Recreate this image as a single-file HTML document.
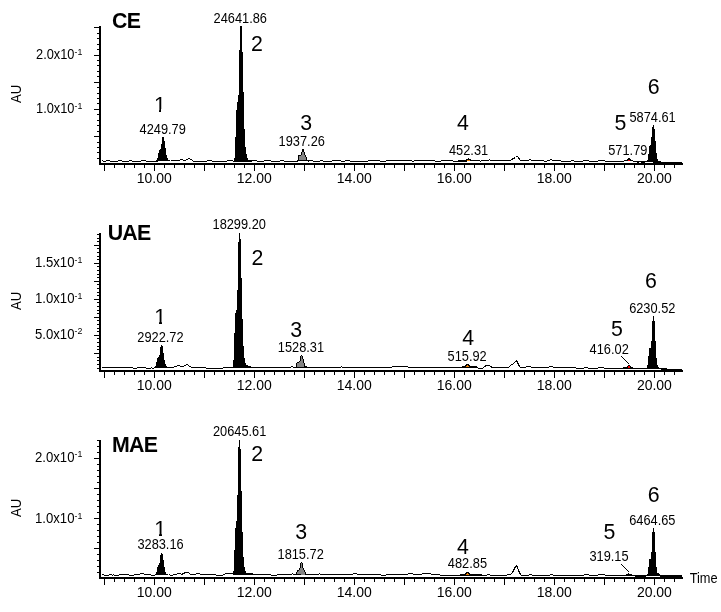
<!DOCTYPE html>
<html><head><meta charset="utf-8"><title>Chromatograms</title>
<style>
html,body{margin:0;padding:0;background:#fff;}
svg{display:block;}
text{font-family:"Liberation Sans",sans-serif;fill:#000;}
</style></head><body>
<svg width="721" height="612" viewBox="0 0 721 612" shape-rendering="crispEdges">
<rect x="0" y="0" width="721" height="612" fill="#fff"/>
<rect x="99" y="26" width="2" height="139" fill="#000"/>
<rect x="99" y="163" width="584" height="2" fill="#000"/>
<rect x="104" y="165" width="1" height="6" fill="#000"/>
<rect x="114" y="165" width="1" height="3" fill="#000"/>
<rect x="124" y="165" width="1" height="3" fill="#000"/>
<rect x="134" y="165" width="1" height="3" fill="#000"/>
<rect x="144" y="165" width="1" height="3" fill="#000"/>
<rect x="154" y="165" width="1" height="6" fill="#000"/>
<rect x="164" y="165" width="1" height="3" fill="#000"/>
<rect x="174" y="165" width="1" height="3" fill="#000"/>
<rect x="184" y="165" width="1" height="3" fill="#000"/>
<rect x="194" y="165" width="1" height="3" fill="#000"/>
<rect x="204" y="165" width="1" height="6" fill="#000"/>
<rect x="214" y="165" width="1" height="3" fill="#000"/>
<rect x="224" y="165" width="1" height="3" fill="#000"/>
<rect x="234" y="165" width="1" height="3" fill="#000"/>
<rect x="244" y="165" width="1" height="3" fill="#000"/>
<rect x="254" y="165" width="1" height="6" fill="#000"/>
<rect x="264" y="165" width="1" height="3" fill="#000"/>
<rect x="274" y="165" width="1" height="3" fill="#000"/>
<rect x="284" y="165" width="1" height="3" fill="#000"/>
<rect x="294" y="165" width="1" height="3" fill="#000"/>
<rect x="304" y="165" width="1" height="6" fill="#000"/>
<rect x="314" y="165" width="1" height="3" fill="#000"/>
<rect x="324" y="165" width="1" height="3" fill="#000"/>
<rect x="334" y="165" width="1" height="3" fill="#000"/>
<rect x="344" y="165" width="1" height="3" fill="#000"/>
<rect x="354" y="165" width="1" height="6" fill="#000"/>
<rect x="364" y="165" width="1" height="3" fill="#000"/>
<rect x="374" y="165" width="1" height="3" fill="#000"/>
<rect x="384" y="165" width="1" height="3" fill="#000"/>
<rect x="394" y="165" width="1" height="3" fill="#000"/>
<rect x="404" y="165" width="1" height="6" fill="#000"/>
<rect x="414" y="165" width="1" height="3" fill="#000"/>
<rect x="424" y="165" width="1" height="3" fill="#000"/>
<rect x="434" y="165" width="1" height="3" fill="#000"/>
<rect x="444" y="165" width="1" height="3" fill="#000"/>
<rect x="454" y="165" width="1" height="6" fill="#000"/>
<rect x="464" y="165" width="1" height="3" fill="#000"/>
<rect x="474" y="165" width="1" height="3" fill="#000"/>
<rect x="484" y="165" width="1" height="3" fill="#000"/>
<rect x="494" y="165" width="1" height="3" fill="#000"/>
<rect x="504" y="165" width="1" height="6" fill="#000"/>
<rect x="514" y="165" width="1" height="3" fill="#000"/>
<rect x="524" y="165" width="1" height="3" fill="#000"/>
<rect x="534" y="165" width="1" height="3" fill="#000"/>
<rect x="544" y="165" width="1" height="3" fill="#000"/>
<rect x="554" y="165" width="1" height="6" fill="#000"/>
<rect x="564" y="165" width="1" height="3" fill="#000"/>
<rect x="574" y="165" width="1" height="3" fill="#000"/>
<rect x="584" y="165" width="1" height="3" fill="#000"/>
<rect x="594" y="165" width="1" height="3" fill="#000"/>
<rect x="604" y="165" width="1" height="6" fill="#000"/>
<rect x="614" y="165" width="1" height="3" fill="#000"/>
<rect x="624" y="165" width="1" height="3" fill="#000"/>
<rect x="634" y="165" width="1" height="3" fill="#000"/>
<rect x="644" y="165" width="1" height="3" fill="#000"/>
<rect x="654" y="165" width="1" height="6" fill="#000"/>
<rect x="664" y="165" width="1" height="3" fill="#000"/>
<rect x="674" y="165" width="1" height="3" fill="#000"/>
<rect x="97" y="158" width="2" height="1" fill="#000"/>
<rect x="97" y="152" width="2" height="1" fill="#000"/>
<rect x="97" y="147" width="2" height="1" fill="#000"/>
<rect x="97" y="142" width="2" height="1" fill="#000"/>
<rect x="94" y="136" width="5" height="1" fill="#000"/>
<rect x="97" y="131" width="2" height="1" fill="#000"/>
<rect x="97" y="125" width="2" height="1" fill="#000"/>
<rect x="97" y="120" width="2" height="1" fill="#000"/>
<rect x="97" y="114" width="2" height="1" fill="#000"/>
<rect x="94" y="109" width="5" height="1" fill="#000"/>
<rect x="97" y="103" width="2" height="1" fill="#000"/>
<rect x="97" y="98" width="2" height="1" fill="#000"/>
<rect x="97" y="93" width="2" height="1" fill="#000"/>
<rect x="97" y="87" width="2" height="1" fill="#000"/>
<rect x="94" y="82" width="5" height="1" fill="#000"/>
<rect x="97" y="76" width="2" height="1" fill="#000"/>
<rect x="97" y="71" width="2" height="1" fill="#000"/>
<rect x="97" y="65" width="2" height="1" fill="#000"/>
<rect x="97" y="60" width="2" height="1" fill="#000"/>
<rect x="94" y="55" width="5" height="1" fill="#000"/>
<rect x="97" y="49" width="2" height="1" fill="#000"/>
<rect x="97" y="44" width="2" height="1" fill="#000"/>
<rect x="97" y="38" width="2" height="1" fill="#000"/>
<rect x="97" y="33" width="2" height="1" fill="#000"/>
<rect x="94" y="27" width="5" height="1" fill="#000"/>
<text x="136.75" y="182.80" font-size="14">10.00</text>
<text x="236.75" y="182.80" font-size="14">12.00</text>
<text x="336.75" y="182.80" font-size="14">14.00</text>
<text x="436.75" y="182.80" font-size="14">16.00</text>
<text x="536.75" y="182.80" font-size="14">18.00</text>
<text x="636.88" y="182.80" font-size="14">20.00</text>
<text transform="translate(36.03,59.40) scale(0.915,1)" font-size="14">2.0x10</text>
<text x="74.62" y="55.20" font-size="8.8" fill="#333">-1</text>
<text transform="translate(36.03,113.40) scale(0.915,1)" font-size="14">1.0x10</text>
<text x="74.62" y="109.20" font-size="8.8" fill="#333">-1</text>
<text transform="translate(21,93.9) rotate(-90) scale(0.93,1)" text-anchor="middle" font-size="14">AU</text>
<text x="112.03" y="27.80" font-size="21.33" font-weight="bold" letter-spacing="-0.7">CE</text>
<polyline points="101.5,160.5 102.5,160.5 103.5,161.5 105.5,161.5 106.5,160.5 109.5,160.5 110.5,161.5 117.5,161.5 118.5,160.5 121.5,160.5 122.5,161.5 128.5,161.5 129.5,160.5 131.5,160.5 132.5,161.5 140.5,161.5 141.5,160.5 145.5,160.5 146.5,161.5 156.5,161.5" fill="none" stroke="#000" stroke-width="1"/>
<polyline points="170.5,160.5 176.5,160.5 177.5,160.5 179.5,160.5 180.5,159.5 182.5,159.5 183.5,160.5 185.5,160.5 186.5,159.5 187.5,159.5 188.5,158.5 189.5,158.5 190.5,159.5 191.5,159.5 192.5,160.5 193.5,161.5 206.5,161.5 207.5,160.5 211.5,160.5 212.5,161.5 226.5,161.5 227.5,160.5 232.5,160.5 233.5,161.5 233.5,161.5" fill="none" stroke="#000" stroke-width="1"/>
<polyline points="251.5,161.5 251.5,161.5 252.5,160.5 256.5,160.5 257.5,161.5 263.5,161.5 264.5,160.5 270.5,160.5 271.5,161.5 279.5,161.5 280.5,160.5 283.5,160.5 284.5,161.5 297.5,161.5" fill="none" stroke="#000" stroke-width="1"/>
<polyline points="307.5,161.5 308.5,161.5 309.5,160.5 312.5,160.5 313.5,161.5 319.5,161.5 320.5,160.5 322.5,160.5 323.5,161.5 331.5,161.5 332.5,160.5 340.5,160.5 341.5,161.5 344.5,161.5 345.5,160.5 349.5,160.5 350.5,161.5 367.5,161.5 368.5,160.5 379.5,160.5 380.5,161.5 385.5,161.5 386.5,160.5 411.5,160.5 412.5,161.5 413.5,161.5 414.5,160.5 434.5,160.5 435.5,161.5 440.5,161.5 441.5,160.5 452.5,160.5 453.5,161.5 457.5,161.5 458.5,160.5 464.5,160.5 465.5,161.5 466.5,161.5" fill="none" stroke="#000" stroke-width="1"/>
<polyline points="470.5,160.5 471.5,160.5 479.5,160.5 480.5,161.5 480.5,161.5 481.5,160.5 488.5,160.5 489.5,159.5 489.5,159.5 490.5,160.5 509.5,160.5 510.5,160.5 511.5,159.5 513.5,158.5 515.5,157.5 516.5,156.5 517.5,156.5 518.5,157.5 519.5,159.5 520.5,160.5 521.5,160.5 528.5,160.5 529.5,159.5 530.5,159.5 531.5,160.5 543.5,160.5 544.5,161.5 546.5,161.5 547.5,160.5 549.5,160.5 550.5,159.5 551.5,159.5 552.5,160.5 560.5,160.5 561.5,161.5 570.5,161.5 571.5,160.5 573.5,160.5 574.5,161.5 582.5,161.5 583.5,160.5 588.5,160.5 589.5,161.5 597.5,161.5 598.5,160.5 604.5,160.5 605.5,161.5 623.5,161.5 624.5,160.5 626.5,160.5 627.5,159.5 628.5,158.5 629.5,158.5 630.5,159.5 631.5,160.5 632.5,160.5 633.5,161.5 648.5,161.5" fill="none" stroke="#000" stroke-width="1"/>
<rect x="637" y="162" width="2" height="1" fill="#000"/>
<rect x="641" y="162" width="4" height="1" fill="#000"/>
<rect x="162" y="137" width="2" height="4" fill="#000"/>
<rect x="162" y="141" width="3" height="3" fill="#000"/>
<rect x="161" y="144" width="4" height="4" fill="#000"/>
<rect x="161" y="148" width="5" height="1" fill="#000"/>
<rect x="160" y="149" width="6" height="1" fill="#000"/>
<rect x="159" y="150" width="7" height="3" fill="#000"/>
<rect x="158" y="153" width="8" height="2" fill="#000"/>
<rect x="158" y="155" width="9" height="3" fill="#000"/>
<rect x="157" y="158" width="11" height="2" fill="#000"/>
<rect x="156" y="160" width="14" height="1" fill="#000"/>
<rect x="156" y="161" width="2" height="1" fill="#000"/>
<polygon points="232,162 233,161 234,160 234,158 235,158 235,137 236,137 236,110 237,110 237,102 238,102 238,95 239,95 239,50 240,50 240,26 242,26 242,52 243,52 243,92 244,92 244,129 245,129 245,147 246,147 246,154 247,154 247,158 248,158 248,160 251,160 252,161 252,162" fill="#000"/>
<rect x="302" y="149" width="2" height="3" fill="#000"/>
<rect x="301" y="152" width="4" height="3" fill="#000"/>
<rect x="298" y="155" width="8" height="2" fill="#000"/>
<rect x="298" y="157" width="9" height="3" fill="#000"/>
<rect x="297" y="160" width="12" height="1" fill="#000"/>
<rect x="302" y="152" width="2" height="3" fill="#848484"/>
<rect x="301" y="155" width="4" height="1" fill="#848484"/>
<rect x="299" y="156" width="6" height="1" fill="#848484"/>
<rect x="299" y="157" width="7" height="3" fill="#848484"/>
<rect x="468" y="158" width="1" height="1" fill="#000"/>
<rect x="466" y="159" width="5" height="1" fill="#000"/>
<rect x="458" y="160" width="14" height="1" fill="#000"/>
<rect x="453" y="161" width="14" height="1" fill="#000"/>
<rect x="467" y="160" width="3" height="1" fill="#f08000"/>
<rect x="628" y="158" width="2" height="1" fill="#000"/>
<rect x="627" y="159" width="4" height="1" fill="#000"/>
<rect x="624" y="160" width="9" height="1" fill="#000"/>
<rect x="628" y="160" width="2" height="1" fill="#f00000"/>
<polygon points="646,162 647,160 648,160 648,154 649,154 649,146 650,146 651,144 652,130 653,125 654,125 654,129 655,129 655,141 656,141 656,153 657,153 657,159 658,159 658,161 661,161 661,162" fill="#000"/>
<rect x="653" y="162" width="29" height="1" fill="#000"/>
<text transform="translate(213.54,22.80) scale(0.915,1)" font-size="14">24641.86</text>
<text x="251.01" y="50.80" font-size="21.33">2</text>
<text x="154.05" y="111.60" font-size="21.33">1</text>
<rect x="153.75" y="109.30" width="5.35" height="3.2" fill="#fff"/>
<rect x="161.40" y="109.30" width="5.5" height="3.2" fill="#fff"/>
<text transform="translate(139.56,133.70) scale(0.915,1)" font-size="14">4249.79</text>
<text x="300.16" y="129.60" font-size="21.33">3</text>
<text transform="translate(278.62,145.80) scale(0.915,1)" font-size="14">1937.26</text>
<text x="456.88" y="130.00" font-size="21.33">4</text>
<text transform="translate(448.97,154.90) scale(0.915,1)" font-size="14">452.31</text>
<text x="614.46" y="129.60" font-size="21.33">5</text>
<text transform="translate(608.24,154.50) scale(0.915,1)" font-size="14">571.79</text>
<text x="647.69" y="93.80" font-size="21.33">6</text>
<text transform="translate(629.43,122.20) scale(0.915,1)" font-size="14">5874.61</text>
<rect x="99" y="233" width="2" height="139" fill="#000"/>
<rect x="99" y="370" width="584" height="2" fill="#000"/>
<rect x="104" y="372" width="1" height="6" fill="#000"/>
<rect x="114" y="372" width="1" height="3" fill="#000"/>
<rect x="124" y="372" width="1" height="3" fill="#000"/>
<rect x="134" y="372" width="1" height="3" fill="#000"/>
<rect x="144" y="372" width="1" height="3" fill="#000"/>
<rect x="154" y="372" width="1" height="6" fill="#000"/>
<rect x="164" y="372" width="1" height="3" fill="#000"/>
<rect x="174" y="372" width="1" height="3" fill="#000"/>
<rect x="184" y="372" width="1" height="3" fill="#000"/>
<rect x="194" y="372" width="1" height="3" fill="#000"/>
<rect x="204" y="372" width="1" height="6" fill="#000"/>
<rect x="214" y="372" width="1" height="3" fill="#000"/>
<rect x="224" y="372" width="1" height="3" fill="#000"/>
<rect x="234" y="372" width="1" height="3" fill="#000"/>
<rect x="244" y="372" width="1" height="3" fill="#000"/>
<rect x="254" y="372" width="1" height="6" fill="#000"/>
<rect x="264" y="372" width="1" height="3" fill="#000"/>
<rect x="274" y="372" width="1" height="3" fill="#000"/>
<rect x="284" y="372" width="1" height="3" fill="#000"/>
<rect x="294" y="372" width="1" height="3" fill="#000"/>
<rect x="304" y="372" width="1" height="6" fill="#000"/>
<rect x="314" y="372" width="1" height="3" fill="#000"/>
<rect x="324" y="372" width="1" height="3" fill="#000"/>
<rect x="334" y="372" width="1" height="3" fill="#000"/>
<rect x="344" y="372" width="1" height="3" fill="#000"/>
<rect x="354" y="372" width="1" height="6" fill="#000"/>
<rect x="364" y="372" width="1" height="3" fill="#000"/>
<rect x="374" y="372" width="1" height="3" fill="#000"/>
<rect x="384" y="372" width="1" height="3" fill="#000"/>
<rect x="394" y="372" width="1" height="3" fill="#000"/>
<rect x="404" y="372" width="1" height="6" fill="#000"/>
<rect x="414" y="372" width="1" height="3" fill="#000"/>
<rect x="424" y="372" width="1" height="3" fill="#000"/>
<rect x="434" y="372" width="1" height="3" fill="#000"/>
<rect x="444" y="372" width="1" height="3" fill="#000"/>
<rect x="454" y="372" width="1" height="6" fill="#000"/>
<rect x="464" y="372" width="1" height="3" fill="#000"/>
<rect x="474" y="372" width="1" height="3" fill="#000"/>
<rect x="484" y="372" width="1" height="3" fill="#000"/>
<rect x="494" y="372" width="1" height="3" fill="#000"/>
<rect x="504" y="372" width="1" height="6" fill="#000"/>
<rect x="514" y="372" width="1" height="3" fill="#000"/>
<rect x="524" y="372" width="1" height="3" fill="#000"/>
<rect x="534" y="372" width="1" height="3" fill="#000"/>
<rect x="544" y="372" width="1" height="3" fill="#000"/>
<rect x="554" y="372" width="1" height="6" fill="#000"/>
<rect x="564" y="372" width="1" height="3" fill="#000"/>
<rect x="574" y="372" width="1" height="3" fill="#000"/>
<rect x="584" y="372" width="1" height="3" fill="#000"/>
<rect x="594" y="372" width="1" height="3" fill="#000"/>
<rect x="604" y="372" width="1" height="6" fill="#000"/>
<rect x="614" y="372" width="1" height="3" fill="#000"/>
<rect x="624" y="372" width="1" height="3" fill="#000"/>
<rect x="634" y="372" width="1" height="3" fill="#000"/>
<rect x="644" y="372" width="1" height="3" fill="#000"/>
<rect x="654" y="372" width="1" height="6" fill="#000"/>
<rect x="664" y="372" width="1" height="3" fill="#000"/>
<rect x="674" y="372" width="1" height="3" fill="#000"/>
<rect x="97" y="368" width="2" height="1" fill="#000"/>
<rect x="97" y="364" width="2" height="1" fill="#000"/>
<rect x="97" y="360" width="2" height="1" fill="#000"/>
<rect x="97" y="357" width="2" height="1" fill="#000"/>
<rect x="94" y="353" width="5" height="1" fill="#000"/>
<rect x="97" y="349" width="2" height="1" fill="#000"/>
<rect x="97" y="346" width="2" height="1" fill="#000"/>
<rect x="97" y="342" width="2" height="1" fill="#000"/>
<rect x="97" y="338" width="2" height="1" fill="#000"/>
<rect x="94" y="335" width="5" height="1" fill="#000"/>
<rect x="97" y="331" width="2" height="1" fill="#000"/>
<rect x="97" y="328" width="2" height="1" fill="#000"/>
<rect x="97" y="324" width="2" height="1" fill="#000"/>
<rect x="97" y="320" width="2" height="1" fill="#000"/>
<rect x="94" y="317" width="5" height="1" fill="#000"/>
<rect x="97" y="313" width="2" height="1" fill="#000"/>
<rect x="97" y="310" width="2" height="1" fill="#000"/>
<rect x="97" y="306" width="2" height="1" fill="#000"/>
<rect x="97" y="302" width="2" height="1" fill="#000"/>
<rect x="94" y="299" width="5" height="1" fill="#000"/>
<rect x="97" y="295" width="2" height="1" fill="#000"/>
<rect x="97" y="292" width="2" height="1" fill="#000"/>
<rect x="97" y="288" width="2" height="1" fill="#000"/>
<rect x="97" y="284" width="2" height="1" fill="#000"/>
<rect x="94" y="281" width="5" height="1" fill="#000"/>
<rect x="97" y="277" width="2" height="1" fill="#000"/>
<rect x="97" y="274" width="2" height="1" fill="#000"/>
<rect x="97" y="270" width="2" height="1" fill="#000"/>
<rect x="97" y="266" width="2" height="1" fill="#000"/>
<rect x="94" y="263" width="5" height="1" fill="#000"/>
<rect x="97" y="259" width="2" height="1" fill="#000"/>
<rect x="97" y="256" width="2" height="1" fill="#000"/>
<rect x="97" y="252" width="2" height="1" fill="#000"/>
<rect x="97" y="248" width="2" height="1" fill="#000"/>
<rect x="94" y="245" width="5" height="1" fill="#000"/>
<rect x="97" y="241" width="2" height="1" fill="#000"/>
<rect x="97" y="238" width="2" height="1" fill="#000"/>
<rect x="97" y="234" width="2" height="1" fill="#000"/>
<text x="136.75" y="389.80" font-size="14">10.00</text>
<text x="236.75" y="389.80" font-size="14">12.00</text>
<text x="336.75" y="389.80" font-size="14">14.00</text>
<text x="436.75" y="389.80" font-size="14">16.00</text>
<text x="536.75" y="389.80" font-size="14">18.00</text>
<text x="636.88" y="389.80" font-size="14">20.00</text>
<text transform="translate(34.99,267.00) scale(0.94,1)" font-size="14">1.5x10</text>
<text x="74.62" y="262.80" font-size="8.8" fill="#333">-1</text>
<text transform="translate(34.99,303.40) scale(0.94,1)" font-size="14">1.0x10</text>
<text x="74.62" y="299.20" font-size="8.8" fill="#333">-1</text>
<text transform="translate(34.99,338.50) scale(0.94,1)" font-size="14">5.0x10</text>
<text x="74.62" y="334.30" font-size="8.8" fill="#333">-2</text>
<text transform="translate(21,300.9) rotate(-90) scale(0.93,1)" text-anchor="middle" font-size="14">AU</text>
<text x="107.65" y="240.00" font-size="21.33" font-weight="bold" letter-spacing="-0.7">UAE</text>
<polyline points="101.5,367.5 132.5,367.5 133.5,368.5 136.5,368.5 137.5,367.5 145.5,367.5 146.5,368.5 150.5,368.5 151.5,367.5 151.5,367.5 152.5,368.5 153.5,368.5 154.5,367.5 155.5,367.5" fill="none" stroke="#000" stroke-width="1"/>
<polyline points="167.5,367.5 173.5,367.5 174.5,366.5 176.5,366.5 177.5,365.5 179.5,365.5 180.5,366.5 183.5,366.5 184.5,365.5 185.5,365.5 186.5,364.5 187.5,364.5 188.5,365.5 189.5,366.5 190.5,366.5 191.5,367.5 205.5,367.5 206.5,368.5 222.5,368.5 223.5,367.5 233.5,367.5" fill="none" stroke="#000" stroke-width="1"/>
<polyline points="251.5,367.5 290.5,367.5 291.5,366.5 292.5,366.5 293.5,367.5 296.5,367.5" fill="none" stroke="#000" stroke-width="1"/>
<polyline points="307.5,367.5 340.5,367.5 341.5,366.5 341.5,366.5 342.5,367.5 391.5,367.5 392.5,366.5 407.5,366.5 408.5,367.5 463.5,367.5 471.5,367.5 477.5,367.5 478.5,368.5 482.5,368.5 483.5,367.5 483.5,367.5 484.5,366.5 486.5,365.5 489.5,365.5 490.5,366.5 492.5,367.5 508.5,367.5 509.5,366.5 510.5,365.5 511.5,364.5 512.5,364.5 513.5,363.5 514.5,362.5 515.5,361.5 516.5,360.5 517.5,362.5 518.5,364.5 519.5,366.5 520.5,367.5 525.5,367.5 526.5,366.5 530.5,366.5 531.5,367.5 548.5,367.5 549.5,366.5 552.5,366.5 553.5,367.5 575.5,367.5 576.5,368.5 583.5,368.5 584.5,367.5 587.5,367.5 588.5,368.5 597.5,368.5 598.5,367.5 603.5,367.5 604.5,368.5 622.5,368.5 623.5,368.5 647.5,368.5" fill="none" stroke="#000" stroke-width="1"/>
<rect x="161" y="345" width="1" height="1" fill="#000"/>
<rect x="161" y="346" width="2" height="1" fill="#000"/>
<rect x="160" y="347" width="3" height="6" fill="#000"/>
<rect x="160" y="353" width="4" height="2" fill="#000"/>
<rect x="159" y="355" width="5" height="2" fill="#000"/>
<rect x="158" y="357" width="6" height="1" fill="#000"/>
<rect x="157" y="358" width="7" height="2" fill="#000"/>
<rect x="157" y="360" width="8" height="2" fill="#000"/>
<rect x="156" y="362" width="9" height="2" fill="#000"/>
<rect x="156" y="364" width="10" height="2" fill="#000"/>
<rect x="155" y="366" width="12" height="1" fill="#000"/>
<rect x="154" y="367" width="14" height="1" fill="#000"/>
<polygon points="232,368 233,367 233,360 234,360 234,333 235,333 235,313 236,313 236,310 237,310 237,290 238,290 238,242 239,242 239,233 240,233 240,239 241,239 241,278 242,278 242,319 243,319 243,346 244,346 244,358 245,358 245,363 246,363 246,365 248,365 248,366 251,366 251,367 252,368" fill="#000"/>
<rect x="301" y="355" width="1" height="1" fill="#000"/>
<rect x="300" y="356" width="3" height="3" fill="#000"/>
<rect x="300" y="359" width="4" height="2" fill="#000"/>
<rect x="299" y="361" width="5" height="1" fill="#000"/>
<rect x="297" y="362" width="7" height="1" fill="#000"/>
<rect x="296" y="363" width="9" height="4" fill="#000"/>
<rect x="305" y="366" width="2" height="1" fill="#000"/>
<rect x="295" y="367" width="13" height="1" fill="#000"/>
<rect x="301" y="356" width="1" height="3" fill="#848484"/>
<rect x="301" y="359" width="2" height="2" fill="#848484"/>
<rect x="300" y="361" width="3" height="1" fill="#848484"/>
<rect x="299" y="362" width="4" height="1" fill="#848484"/>
<rect x="297" y="363" width="7" height="4" fill="#848484"/>
<rect x="466" y="364" width="3" height="1" fill="#000"/>
<rect x="465" y="365" width="5" height="1" fill="#000"/>
<rect x="462" y="366" width="15" height="1" fill="#000"/>
<rect x="467" y="365" width="1" height="1" fill="#f08000"/>
<rect x="466" y="366" width="3" height="1" fill="#f08000"/>
<rect x="628" y="365" width="2" height="1" fill="#000"/>
<rect x="627" y="366" width="4" height="1" fill="#000"/>
<rect x="623" y="367" width="10" height="1" fill="#000"/>
<rect x="628" y="366" width="2" height="2" fill="#f00000"/>
<polygon points="646,369 647,368 647,365 648,365 648,356 649,356 649,348 651,348 651,341 652,341 652,321 653,321 653,316 654,316 654,321 655,321 655,341 656,341 656,358 657,358 657,365 658,365 658,367 659,367 659,368 661,368 667,368 667,369 661,369" fill="#000"/>
<rect x="661" y="368" width="6" height="3" fill="#000"/>
<rect x="667" y="369" width="15" height="2" fill="#000"/>
<line x1="621" y1="356" x2="629" y2="364" stroke="#000" stroke-width="1" shape-rendering="geometricPrecision"/>
<text transform="translate(212.51,229.30) scale(0.915,1)" font-size="14">18299.20</text>
<text x="251.46" y="265.00" font-size="21.33">2</text>
<text x="154.15" y="323.80" font-size="21.33">1</text>
<rect x="153.85" y="321.50" width="5.35" height="3.2" fill="#fff"/>
<rect x="161.50" y="321.50" width="5.5" height="3.2" fill="#fff"/>
<text transform="translate(137.28,341.90) scale(0.915,1)" font-size="14">2922.72</text>
<text x="290.31" y="336.60" font-size="21.33">3</text>
<text transform="translate(277.78,351.70) scale(0.915,1)" font-size="14">1528.31</text>
<text x="462.17" y="344.80" font-size="21.33">4</text>
<text transform="translate(447.54,360.60) scale(0.915,1)" font-size="14">515.92</text>
<text x="611.01" y="336.40" font-size="21.33">5</text>
<text transform="translate(589.61,353.80) scale(0.915,1)" font-size="14">416.02</text>
<text x="644.89" y="287.70" font-size="21.33">6</text>
<text transform="translate(629.13,312.80) scale(0.915,1)" font-size="14">6230.52</text>
<rect x="99" y="440" width="2" height="139" fill="#000"/>
<rect x="99" y="577" width="584" height="2" fill="#000"/>
<rect x="104" y="579" width="1" height="6" fill="#000"/>
<rect x="114" y="579" width="1" height="3" fill="#000"/>
<rect x="124" y="579" width="1" height="3" fill="#000"/>
<rect x="134" y="579" width="1" height="3" fill="#000"/>
<rect x="144" y="579" width="1" height="3" fill="#000"/>
<rect x="154" y="579" width="1" height="6" fill="#000"/>
<rect x="164" y="579" width="1" height="3" fill="#000"/>
<rect x="174" y="579" width="1" height="3" fill="#000"/>
<rect x="184" y="579" width="1" height="3" fill="#000"/>
<rect x="194" y="579" width="1" height="3" fill="#000"/>
<rect x="204" y="579" width="1" height="6" fill="#000"/>
<rect x="214" y="579" width="1" height="3" fill="#000"/>
<rect x="224" y="579" width="1" height="3" fill="#000"/>
<rect x="234" y="579" width="1" height="3" fill="#000"/>
<rect x="244" y="579" width="1" height="3" fill="#000"/>
<rect x="254" y="579" width="1" height="6" fill="#000"/>
<rect x="264" y="579" width="1" height="3" fill="#000"/>
<rect x="274" y="579" width="1" height="3" fill="#000"/>
<rect x="284" y="579" width="1" height="3" fill="#000"/>
<rect x="294" y="579" width="1" height="3" fill="#000"/>
<rect x="304" y="579" width="1" height="6" fill="#000"/>
<rect x="314" y="579" width="1" height="3" fill="#000"/>
<rect x="324" y="579" width="1" height="3" fill="#000"/>
<rect x="334" y="579" width="1" height="3" fill="#000"/>
<rect x="344" y="579" width="1" height="3" fill="#000"/>
<rect x="354" y="579" width="1" height="6" fill="#000"/>
<rect x="364" y="579" width="1" height="3" fill="#000"/>
<rect x="374" y="579" width="1" height="3" fill="#000"/>
<rect x="384" y="579" width="1" height="3" fill="#000"/>
<rect x="394" y="579" width="1" height="3" fill="#000"/>
<rect x="404" y="579" width="1" height="6" fill="#000"/>
<rect x="414" y="579" width="1" height="3" fill="#000"/>
<rect x="424" y="579" width="1" height="3" fill="#000"/>
<rect x="434" y="579" width="1" height="3" fill="#000"/>
<rect x="444" y="579" width="1" height="3" fill="#000"/>
<rect x="454" y="579" width="1" height="6" fill="#000"/>
<rect x="464" y="579" width="1" height="3" fill="#000"/>
<rect x="474" y="579" width="1" height="3" fill="#000"/>
<rect x="484" y="579" width="1" height="3" fill="#000"/>
<rect x="494" y="579" width="1" height="3" fill="#000"/>
<rect x="504" y="579" width="1" height="6" fill="#000"/>
<rect x="514" y="579" width="1" height="3" fill="#000"/>
<rect x="524" y="579" width="1" height="3" fill="#000"/>
<rect x="534" y="579" width="1" height="3" fill="#000"/>
<rect x="544" y="579" width="1" height="3" fill="#000"/>
<rect x="554" y="579" width="1" height="6" fill="#000"/>
<rect x="564" y="579" width="1" height="3" fill="#000"/>
<rect x="574" y="579" width="1" height="3" fill="#000"/>
<rect x="584" y="579" width="1" height="3" fill="#000"/>
<rect x="594" y="579" width="1" height="3" fill="#000"/>
<rect x="604" y="579" width="1" height="6" fill="#000"/>
<rect x="614" y="579" width="1" height="3" fill="#000"/>
<rect x="624" y="579" width="1" height="3" fill="#000"/>
<rect x="634" y="579" width="1" height="3" fill="#000"/>
<rect x="644" y="579" width="1" height="3" fill="#000"/>
<rect x="654" y="579" width="1" height="6" fill="#000"/>
<rect x="664" y="579" width="1" height="3" fill="#000"/>
<rect x="674" y="579" width="1" height="3" fill="#000"/>
<rect x="97" y="572" width="2" height="1" fill="#000"/>
<rect x="97" y="566" width="2" height="1" fill="#000"/>
<rect x="97" y="560" width="2" height="1" fill="#000"/>
<rect x="97" y="554" width="2" height="1" fill="#000"/>
<rect x="94" y="548" width="5" height="1" fill="#000"/>
<rect x="97" y="542" width="2" height="1" fill="#000"/>
<rect x="97" y="536" width="2" height="1" fill="#000"/>
<rect x="97" y="530" width="2" height="1" fill="#000"/>
<rect x="97" y="524" width="2" height="1" fill="#000"/>
<rect x="94" y="518" width="5" height="1" fill="#000"/>
<rect x="97" y="512" width="2" height="1" fill="#000"/>
<rect x="97" y="506" width="2" height="1" fill="#000"/>
<rect x="97" y="500" width="2" height="1" fill="#000"/>
<rect x="97" y="494" width="2" height="1" fill="#000"/>
<rect x="94" y="488" width="5" height="1" fill="#000"/>
<rect x="97" y="482" width="2" height="1" fill="#000"/>
<rect x="97" y="476" width="2" height="1" fill="#000"/>
<rect x="97" y="470" width="2" height="1" fill="#000"/>
<rect x="97" y="464" width="2" height="1" fill="#000"/>
<rect x="94" y="458" width="5" height="1" fill="#000"/>
<rect x="97" y="452" width="2" height="1" fill="#000"/>
<rect x="97" y="446" width="2" height="1" fill="#000"/>
<rect x="97" y="440" width="2" height="1" fill="#000"/>
<text x="136.75" y="596.80" font-size="14">10.00</text>
<text x="236.75" y="596.80" font-size="14">12.00</text>
<text x="336.75" y="596.80" font-size="14">14.00</text>
<text x="436.75" y="596.80" font-size="14">16.00</text>
<text x="536.75" y="596.80" font-size="14">18.00</text>
<text x="636.88" y="596.80" font-size="14">20.00</text>
<text transform="translate(34.99,461.50) scale(0.94,1)" font-size="14">2.0x10</text>
<text x="74.62" y="457.30" font-size="8.8" fill="#333">-1</text>
<text transform="translate(34.99,522.70) scale(0.94,1)" font-size="14">1.0x10</text>
<text x="74.62" y="518.50" font-size="8.8" fill="#333">-1</text>
<text transform="translate(21,507.9) rotate(-90) scale(0.93,1)" text-anchor="middle" font-size="14">AU</text>
<text x="111.92" y="451.80" font-size="21.33" font-weight="bold" letter-spacing="-0.7">MAE</text>
<polyline points="101.5,574.5 103.5,574.5 104.5,575.5 108.5,575.5 109.5,574.5 111.5,574.5 112.5,575.5 112.5,575.5 113.5,574.5 113.5,574.5 114.5,575.5 118.5,575.5 119.5,574.5 128.5,574.5 129.5,575.5 133.5,575.5 134.5,574.5 139.5,574.5 140.5,573.5 143.5,573.5 144.5,574.5 150.5,574.5 151.5,575.5 154.5,575.5 155.5,574.5 155.5,574.5" fill="none" stroke="#000" stroke-width="1"/>
<polyline points="168.5,574.5 169.5,574.5 170.5,575.5 172.5,575.5 173.5,574.5 176.5,574.5 177.5,573.5 180.5,573.5 181.5,574.5 183.5,573.5 185.5,572.5 188.5,572.5 189.5,573.5 190.5,574.5 195.5,574.5 196.5,573.5 199.5,573.5 200.5,574.5 215.5,574.5 216.5,575.5 222.5,575.5 223.5,574.5 224.5,574.5 225.5,573.5 233.5,573.5" fill="none" stroke="#000" stroke-width="1"/>
<polyline points="250.5,573.5 255.5,574.5 256.5,574.5 270.5,574.5 271.5,575.5 276.5,575.5 277.5,574.5 291.5,574.5 292.5,573.5 292.5,573.5 293.5,574.5 296.5,574.5" fill="none" stroke="#000" stroke-width="1"/>
<polyline points="307.5,574.5 318.5,574.5 319.5,573.5 319.5,573.5 320.5,574.5 352.5,574.5 353.5,573.5 356.5,573.5 357.5,574.5 380.5,574.5 381.5,575.5 385.5,575.5 386.5,574.5 407.5,574.5 408.5,573.5 412.5,573.5 413.5,574.5 421.5,574.5 422.5,573.5 430.5,573.5 431.5,574.5 439.5,574.5 440.5,575.5 486.5,575.5 487.5,574.5 489.5,574.5 490.5,575.5 506.5,575.5 507.5,574.5 510.5,574.5 511.5,573.5 512.5,572.5 513.5,570.5 514.5,568.5 515.5,566.5 516.5,565.5 517.5,567.5 518.5,570.5 519.5,572.5 520.5,574.5 521.5,575.5 528.5,575.5 529.5,574.5 531.5,574.5 532.5,575.5 549.5,575.5 550.5,574.5 552.5,574.5 553.5,575.5 583.5,575.5 584.5,574.5 588.5,574.5 589.5,575.5 597.5,575.5 598.5,574.5 604.5,574.5 605.5,575.5 624.5,575.5 625.5,575.5 647.5,575.5" fill="none" stroke="#000" stroke-width="1"/>
<rect x="161" y="553" width="1" height="1" fill="#000"/>
<rect x="161" y="554" width="2" height="1" fill="#000"/>
<rect x="160" y="555" width="3" height="5" fill="#000"/>
<rect x="160" y="560" width="4" height="3" fill="#000"/>
<rect x="159" y="563" width="5" height="2" fill="#000"/>
<rect x="158" y="565" width="6" height="2" fill="#000"/>
<rect x="157" y="567" width="8" height="5" fill="#000"/>
<rect x="156" y="572" width="10" height="2" fill="#000"/>
<rect x="155" y="574" width="13" height="1" fill="#000"/>
<polygon points="232,575 233,574 233,571 234,571 234,550 235,550 235,528 236,528 236,521 237,521 237,495 238,495 238,447 239,447 239,440 240,440 240,449 241,449 241,491 242,491 242,532 243,532 243,557 244,557 244,567 245,567 245,571 246,571 246,573 249,573 255,574 255,575" fill="#000"/>
<rect x="301" y="562" width="1" height="1" fill="#000"/>
<rect x="300" y="563" width="3" height="5" fill="#000"/>
<rect x="299" y="568" width="5" height="2" fill="#000"/>
<rect x="297" y="570" width="8" height="2" fill="#000"/>
<rect x="296" y="572" width="10" height="2" fill="#000"/>
<rect x="295" y="574" width="13" height="1" fill="#000"/>
<rect x="301" y="563" width="1" height="5" fill="#848484"/>
<rect x="300" y="568" width="3" height="2" fill="#848484"/>
<rect x="299" y="570" width="5" height="1" fill="#848484"/>
<rect x="298" y="571" width="6" height="1" fill="#848484"/>
<rect x="297" y="572" width="8" height="2" fill="#848484"/>
<rect x="301" y="574" width="4" height="1" fill="#848484"/>
<rect x="466" y="572" width="3" height="1" fill="#000"/>
<rect x="465" y="573" width="5" height="1" fill="#000"/>
<rect x="460" y="574" width="22" height="1" fill="#000"/>
<rect x="467" y="573" width="1" height="1" fill="#f08000"/>
<rect x="466" y="574" width="3" height="1" fill="#f08000"/>
<polygon points="646,576 646,575 648,573 648,567 649,567 649,559 651,559 651,552 652,552 652,532 653,532 653,528 654,528 654,532 655,532 655,552 656,552 656,567 657,567 657,573 658,573 660,575 660,576" fill="#000"/>
<rect x="635" y="575" width="11" height="2" fill="#000"/>
<rect x="660" y="575" width="22" height="2" fill="#000"/>
<rect x="628" y="573" width="1" height="1" fill="#000"/>
<rect x="626" y="574" width="6" height="1" fill="#000"/>
<line x1="621" y1="564" x2="629" y2="572" stroke="#000" stroke-width="1" shape-rendering="geometricPrecision"/>
<text transform="translate(212.91,436.30) scale(0.915,1)" font-size="14">20645.61</text>
<text x="251.16" y="461.40" font-size="21.33">2</text>
<text x="154.15" y="535.50" font-size="21.33">1</text>
<rect x="153.85" y="533.20" width="5.35" height="3.2" fill="#fff"/>
<rect x="161.50" y="533.20" width="5.5" height="3.2" fill="#fff"/>
<text transform="translate(137.40,549.30) scale(0.915,1)" font-size="14">3283.16</text>
<text x="295.16" y="538.80" font-size="21.33">3</text>
<text transform="translate(277.52,558.80) scale(0.915,1)" font-size="14">1815.72</text>
<text x="457.12" y="553.80" font-size="21.33">4</text>
<text transform="translate(447.86,568.40) scale(0.915,1)" font-size="14">482.85</text>
<text x="603.41" y="538.50" font-size="21.33">5</text>
<text transform="translate(589.39,561.20) scale(0.915,1)" font-size="14">319.15</text>
<text x="647.79" y="502.20" font-size="21.33">6</text>
<text transform="translate(629.22,524.60) scale(0.915,1)" font-size="14">6464.65</text>
<text transform="translate(689.67,582.50) scale(0.915,1)" font-size="14">Time</text>
</svg>
</body></html>
